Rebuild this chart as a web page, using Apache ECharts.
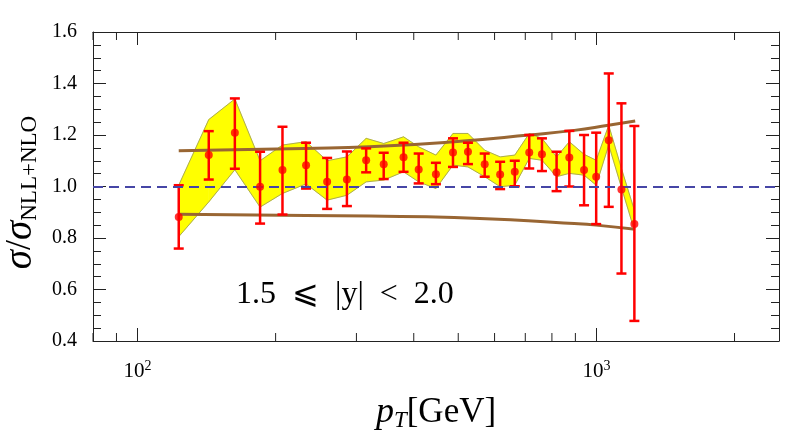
<!DOCTYPE html>
<html>
<head>
<meta charset="utf-8">
<script src="https://cdn.jsdelivr.net/npm/echarts@6/dist/echarts.min.js"></script>
<style>
  html, body { margin: 0; padding: 0; background: #fff; }
  #chart { width: 789px; height: 439px; }
</style>
</head>
<body>
<div id="chart"></div>
<script>
// bin centres (GeV) and measured ratio with error bars
const pT = [123, 143, 163, 185, 207, 233, 259, 286, 315, 344, 380, 410, 447, 487, 525, 571, 617, 664, 714, 761, 819, 873, 940, 999, 1064, 1134, 1210];
const ratio = [0.882, 1.122, 1.209, 0.999, 1.064, 1.083, 1.018, 1.027, 1.102, 1.086, 1.114, 1.066, 1.048, 1.132, 1.135, 1.086, 1.047, 1.057, 1.132, 1.125, 1.055, 1.113, 1.064, 1.038, 1.180, 0.988, 0.854];
const errLow = [0.759, 1.027, 1.069, 0.856, 0.891, 0.992, 0.913, 0.924, 1.055, 1.029, 1.057, 1.012, 1.009, 1.076, 1.087, 1.038, 0.990, 1.001, 1.070, 1.060, 0.982, 1.000, 0.927, 0.854, 0.921, 0.662, 0.478];
const errHigh = [1.005, 1.215, 1.342, 1.135, 1.232, 1.170, 1.111, 1.136, 1.148, 1.131, 1.170, 1.128, 1.092, 1.187, 1.170, 1.128, 1.096, 1.100, 1.200, 1.187, 1.135, 1.216, 1.200, 1.209, 1.439, 1.323, 1.235];

// yellow band
const bandLow = [0.805, 0.940, 1.065, 0.920, 0.973, 1.010, 0.947, 0.966, 1.018, 1.025, 1.057, 1.018, 0.992, 1.083, 1.076, 1.038, 0.999, 1.005, 1.109, 1.102, 1.038, 1.051, 1.044, 1.005, 1.161, 0.996, 0.830];
const bandHigh = [1.005, 1.260, 1.340, 1.100, 1.161, 1.174, 1.100, 1.115, 1.187, 1.167, 1.193, 1.154, 1.122, 1.206, 1.206, 1.141, 1.115, 1.122, 1.206, 1.187, 1.115, 1.174, 1.125, 1.102, 1.238, 1.070, 0.908];

// brown curves
const upperX = [123, 231, 320, 490, 714, 895, 1062, 1215];
const upperY = [1.139, 1.148, 1.154, 1.174, 1.200, 1.218, 1.238, 1.254];
const lowerX = [123, 233, 320, 490, 895, 999, 1215];
const lowerY = [0.892, 0.887, 0.885, 0.880, 0.856, 0.850, 0.834];

// minor ticks on the log axis
const minorTicksX = [80, 90, 200, 300, 400, 500, 600, 700, 800, 900, 2000];

const serif = 'Liberation Serif';
const chart = echarts.init(document.getElementById('chart'));

const logLabel = function (v) {
  const e = Math.round(Math.log10(v));
  if (Math.abs(Math.log10(v) - e) > 1e-6) return '';
  return '{b|10}{s|' + e + '}';
};

const tickStyle = { color: '#222', width: 1 };
const edgeStyle = { color: 'rgba(150,150,90,0.8)', width: 1 };

// one quad per pair of neighbouring bins
const bandSegs = [];
for (let i = 0; i < pT.length - 1; i++) {
  bandSegs.push([pT[i], bandLow[i], bandHigh[i], pT[i + 1], bandLow[i + 1], bandHigh[i + 1]]);
}

const option = {
  animation: false,
  backgroundColor: '#fff',
  textStyle: { fontFamily: serif },
  grid: { left: 93, right: 10, top: 32, bottom: 98, outerBoundsMode: 'none', containLabel: false },
  xAxis: [
    {
      type: 'log', logBase: 10, min: 80, max: 2500, position: 'bottom',
      axisLine: { lineStyle: { color: '#222', width: 1 } },
      axisTick: { inside: true, length: 13, lineStyle: tickStyle },
      splitLine: { show: false },
      axisLabel: {
        formatter: logLabel, margin: 18, color: '#000', fontFamily: serif,
        rich: {
          b: { fontFamily: serif, fontSize: 21, color: '#000' },
          s: { fontFamily: serif, fontSize: 14, color: '#000', padding: [0, 0, 11, 0] }
        }
      },
      name: '{i|p}{sub|T}{r|[GeV]}',
      nameLocation: 'middle', nameGap: 52,
      nameTextStyle: {
        rich: {
          i: { fontFamily: serif, fontStyle: 'italic', fontSize: 36, color: '#000' },
          sub: { fontFamily: serif, fontStyle: 'italic', fontSize: 23, color: '#000', padding: [16, 0, 0, 0] },
          r: { fontFamily: serif, fontSize: 35, color: '#000' }
        }
      }
    },
    {
      type: 'log', logBase: 10, min: 80, max: 2500, position: 'top',
      axisLine: { lineStyle: { color: '#222', width: 1 } },
      axisTick: { inside: true, length: 13, lineStyle: tickStyle },
      axisLabel: { show: false },
      splitLine: { show: false }
    }
  ],
  yAxis: [
    {
      type: 'value', min: 0.4, max: 1.6, interval: 0.2, position: 'left',
      axisLine: { show: true, lineStyle: { color: '#222', width: 1 } },
      axisTick: { show: true, inside: true, length: 13, lineStyle: tickStyle },
      minorTick: { show: true, splitNumber: 4, length: 8, lineStyle: tickStyle },
      splitLine: { show: false },
      axisLabel: {
        margin: 16, color: '#000', fontFamily: serif, fontSize: 20,
        formatter: function (v) { return v.toFixed(1); }
      },
      name: '{i|σ}{r|/}{i|σ}{sub|NLL+NLO}',
      nameLocation: 'middle', nameRotate: 90, nameGap: 47,
      nameTextStyle: {
        rich: {
          i: { fontFamily: serif, fontStyle: 'italic', fontSize: 39, color: '#000' },
          r: { fontFamily: serif, fontSize: 36, color: '#000' },
          sub: { fontFamily: serif, fontSize: 23, color: '#000', padding: [18, 12, 0, 0] }
        }
      }
    },
    {
      type: 'value', min: 0.4, max: 1.6, interval: 0.2, position: 'right',
      axisLine: { show: true, lineStyle: { color: '#222', width: 1 } },
      axisTick: { show: true, inside: true, length: 13, lineStyle: tickStyle },
      minorTick: { show: true, splitNumber: 4, length: 8, lineStyle: tickStyle },
      splitLine: { show: false },
      axisLabel: { show: false }
    }
  ],
  graphic: [
    {
      type: 'text', left: 236, top: 279, silent: true, z: 10,
      style: { text: '1.5  ⩽  |y|  <  2.0', font: '32px "Liberation Serif"', fill: '#000' }
    }
  ],
  series: [
    {
      name: 'bandFill', type: 'custom', z: 1, silent: true,
      data: bandSegs,
      encode: { x: [0, 3], y: [1, 2, 4, 5] },
      renderItem: function (params, api) {
        const a1 = api.coord([api.value(0), api.value(1)]);
        const a2 = api.coord([api.value(0), api.value(2)]);
        const b2 = api.coord([api.value(3), api.value(5)]);
        const b1 = api.coord([api.value(3), api.value(4)]);
        return {
          type: 'polygon',
          shape: { points: [a1, a2, b2, b1] },
          style: { fill: '#ffff00', stroke: '#ffff00', lineWidth: 0.6 }
        };
      }
    },
    {
      name: 'bandLow', type: 'line', symbol: 'none', z: 2,
      data: pT.map((x, i) => [x, bandLow[i]]),
      lineStyle: edgeStyle,
      markLine: {
        silent: true, symbol: 'none', label: { show: false },
        lineStyle: { color: '#4646a6', width: 2, type: [10, 6] },
        data: [{ yAxis: 1.0 }]
      }
    },
    {
      name: 'bandHigh', type: 'line', symbol: 'none', z: 2,
      data: pT.map((x, i) => [x, bandHigh[i]]),
      lineStyle: edgeStyle
    },
    {
      name: 'upper', type: 'line', smooth: true, symbol: 'none', z: 3,
      data: upperX.map((x, i) => [x, upperY[i]]),
      lineStyle: { color: '#996633', width: 3 }
    },
    {
      name: 'lower', type: 'line', smooth: true, symbol: 'none', z: 3,
      data: lowerX.map((x, i) => [x, lowerY[i]]),
      lineStyle: { color: '#996633', width: 3 }
    },
    {
      name: 'errors', type: 'custom', z: 4, silent: true,
      data: pT.map((x, i) => [x, errLow[i], errHigh[i]]),
      encode: { x: 0, y: [1, 2] },
      renderItem: function (params, api) {
        const x = api.value(0);
        const lo = api.coord([x, api.value(1)]);
        const hi = api.coord([x, api.value(2)]);
        const cap = 5;
        const st = { stroke: '#ff0000', lineWidth: 2.5 };
        return {
          type: 'group',
          children: [
            { type: 'line', shape: { x1: lo[0], y1: lo[1], x2: hi[0], y2: hi[1] }, style: st },
            { type: 'line', shape: { x1: hi[0] - cap, y1: hi[1], x2: hi[0] + cap, y2: hi[1] }, style: st },
            { type: 'line', shape: { x1: lo[0] - cap, y1: lo[1], x2: lo[0] + cap, y2: lo[1] }, style: st }
          ]
        };
      }
    },
    {
      name: 'ratio', type: 'scatter', z: 5, symbolSize: 8,
      data: pT.map((x, i) => [x, ratio[i]]),
      itemStyle: { color: '#ff0000' }
    },
    {
      name: 'minorTicks', type: 'custom', z: 6, silent: true,
      data: minorTicksX.map(v => [v, 1]),
      encode: { x: 0, y: 1 },
      renderItem: function (params, api) {
        const p = api.coord([api.value(0), 1]);
        const top = params.coordSys.y;
        const bottom = top + params.coordSys.height;
        const st = { stroke: '#222', lineWidth: 1 };
        return {
          type: 'group',
          children: [
            { type: 'line', shape: { x1: p[0], y1: bottom, x2: p[0], y2: bottom - 8 }, style: st },
            { type: 'line', shape: { x1: p[0], y1: top, x2: p[0], y2: top + 8 }, style: st }
          ]
        };
      }
    }
  ]
};

chart.setOption(option);
</script>
</body>
</html>
